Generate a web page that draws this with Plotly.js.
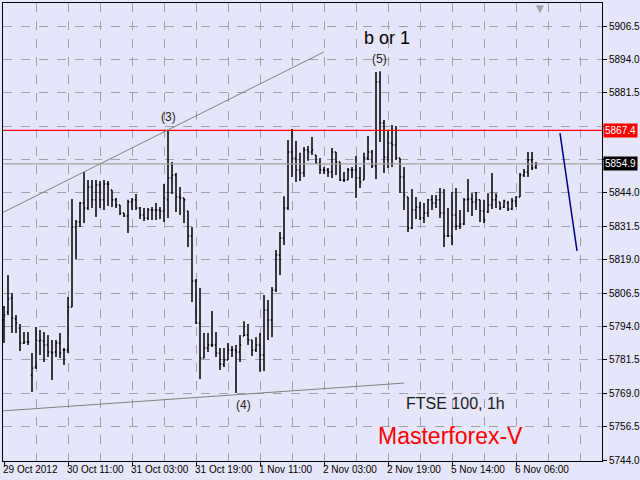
<!DOCTYPE html>
<html>
<head>
<meta charset="utf-8">
<script src="https://cdn.plot.ly/plotly-3.0.1.min.js"></script>
<style>html,body{margin:0;padding:0;background:#E6E6FA;}#chart{width:640px;height:480px;}</style>
</head>
<body>
<div id="chart"></div>
<script>
// FTSE 100, 1h bars (29 Oct 2012 - 6 Nov 2012)
const openP = [5796.4,5799.4,5804.7,5796.8,5793.4,5787.8,5788.2,5775.8,5778.8,5788.6,5788.6,5787.1,5784.4,5784.4,5787.8,5785.2,5785.2,5801.3,5831.2,5833.1,5840.2,5838.4,5846.2,5841.4,5847.0,5841.4,5847.3,5845.1,5841.4,5839.5,5836.5,5835.4,5840.6,5841.4,5838.4,5835.7,5834.6,5837.6,5837.6,5837.6,5837.2,5841.4,5849.6,5850.7,5842.5,5842.1,5837.2,5827.9,5811.0,5795.3,5782.2,5785.9,5787.1,5787.1,5784.1,5779.9,5781.4,5785.2,5785.2,5784.4,5790.4,5790.8,5788.9,5785.2,5787.1,5783.3,5800.2,5796.4,5807.7,5820.8,5827.1,5838.4,5859.3,5857.1,5852.6,5851.5,5860.1,5859.3,5858.2,5855.2,5852.6,5852.6,5851.8,5859.3,5855.6,5848.8,5848.8,5852.6,5852.6,5849.6,5848.8,5857.1,5859.3,5854.1,5885.5,5870.2,5857.4,5862.7,5861.9,5857.1,5850.0,5842.5,5830.9,5837.6,5838.7,5834.6,5836.5,5841.4,5840.2,5841.4,5836.5,5827.9,5827.9,5835.7,5831.6,5832.4,5841.4,5841.7,5840.6,5841.4,5837.2,5836.9,5839.5,5841.4,5840.6,5838.7,5840.2,5838.0,5841.0,5842.5,5850.7,5851.8,5856.3,5853.7];
const highP = [5801.7,5813.3,5806.5,5798.3,5794.9,5791.9,5791.9,5784.1,5793.8,5792.7,5791.9,5790.8,5788.9,5788.9,5791.6,5785.9,5805.0,5841.7,5833.9,5840.6,5851.8,5848.8,5848.8,5848.8,5848.5,5848.8,5848.5,5845.1,5842.1,5839.5,5836.5,5841.4,5842.1,5843.6,5838.7,5838.4,5838.4,5838.7,5840.2,5838.7,5847.3,5867.6,5855.6,5851.5,5846.2,5842.1,5837.2,5831.2,5811.8,5808.4,5791.6,5791.6,5799.8,5791.9,5785.9,5785.9,5787.8,5786.7,5787.1,5790.8,5796.0,5794.9,5788.9,5790.0,5791.6,5805.8,5803.9,5808.8,5822.6,5829.4,5842.8,5863.8,5867.9,5863.4,5859.0,5861.2,5861.6,5864.9,5858.2,5857.1,5853.7,5853.3,5860.8,5859.3,5855.6,5851.8,5853.3,5853.7,5857.8,5853.7,5859.0,5865.3,5860.1,5889.3,5889.6,5871.3,5867.6,5869.4,5869.1,5857.1,5853.7,5842.5,5845.5,5842.5,5840.6,5840.2,5841.7,5843.2,5843.2,5845.8,5845.5,5838.4,5844.3,5845.8,5837.6,5842.1,5849.2,5843.9,5844.3,5841.4,5841.4,5843.9,5851.5,5843.9,5840.6,5841.4,5841.0,5842.1,5842.8,5851.5,5853.0,5859.3,5859.3,5855.6];
const lowP = [5787.8,5798.3,5791.6,5791.6,5784.8,5787.4,5787.1,5769.5,5778.1,5783.3,5780.7,5782.6,5774.0,5782.6,5782.2,5779.6,5784.1,5801.3,5819.3,5831.2,5832.7,5837.6,5838.4,5835.0,5838.4,5837.6,5839.1,5838.7,5838.4,5835.7,5835.0,5829.0,5837.6,5837.6,5834.2,5833.5,5833.9,5833.9,5833.9,5834.2,5833.1,5834.6,5843.6,5836.9,5835.7,5832.7,5823.8,5803.2,5794.9,5774.3,5782.2,5784.4,5786.3,5782.6,5777.7,5778.8,5781.4,5782.6,5769.1,5780.7,5790.4,5787.1,5782.9,5784.4,5777.0,5777.3,5788.9,5790.0,5806.9,5813.3,5824.5,5837.6,5850.0,5848.1,5848.5,5850.0,5856.0,5858.2,5854.8,5851.1,5851.1,5850.0,5849.6,5850.7,5848.5,5848.1,5848.8,5849.6,5842.1,5845.8,5848.8,5856.3,5853.3,5849.2,5863.1,5851.5,5853.3,5853.7,5856.3,5844.0,5837.6,5829.4,5830.5,5834.2,5833.9,5832.7,5835.0,5837.6,5838.4,5834.6,5823.8,5827.5,5824.5,5830.1,5830.5,5832.0,5836.9,5835.4,5837.6,5833.1,5832.7,5836.5,5838.0,5838.4,5837.6,5838.4,5837.2,5837.6,5838.7,5842.5,5850.0,5850.0,5852.6,5853.0];
const closeP = [5798.3,5804.3,5797.2,5795.3,5787.8,5788.2,5788.2,5778.4,5788.9,5788.9,5787.1,5784.4,5784.1,5787.8,5784.1,5785.2,5801.3,5831.2,5833.1,5840.2,5838.4,5846.2,5841.4,5847.0,5841.4,5847.3,5847.3,5841.4,5839.5,5836.5,5835.4,5840.6,5841.4,5838.4,5835.7,5834.6,5837.6,5837.6,5837.6,5837.2,5842.1,5849.6,5850.7,5842.5,5842.1,5841.4,5827.9,5811.0,5795.3,5782.2,5785.9,5787.1,5787.1,5784.1,5779.9,5781.4,5785.2,5785.2,5784.4,5787.1,5790.8,5788.9,5785.2,5787.1,5783.3,5800.2,5796.4,5807.7,5820.8,5827.1,5838.4,5859.3,5857.1,5852.6,5851.5,5860.1,5859.3,5860.1,5855.2,5852.6,5852.6,5851.8,5859.3,5855.6,5848.8,5848.8,5852.6,5852.6,5849.6,5848.1,5857.1,5859.3,5854.1,5885.5,5870.2,5857.4,5862.7,5861.9,5857.1,5850.0,5843.2,5830.9,5837.6,5838.7,5834.6,5836.5,5841.4,5840.2,5841.4,5836.5,5827.9,5827.9,5835.7,5831.6,5832.4,5841.4,5841.7,5840.6,5841.4,5837.2,5833.9,5839.5,5841.4,5842.8,5838.4,5841.0,5838.0,5841.0,5842.5,5850.7,5851.8,5856.3,5853.3,5854.9];

// time axis labels (bar index -> label)
const timeTickIdx = [0,16,32,48,64,80,96,112,128];
const timeTickText = ["29 Oct 2012","30 Oct 11:00","31 Oct 03:00","31 Oct 19:00","1 Nov 11:00","2 Nov 03:00","2 Nov 19:00","5 Nov 14:00","6 Nov 06:00"];

// price axis ticks (two labels are hidden behind the price boxes, as in the terminal)
const priceTicks = [5744.0,5756.5,5769.0,5781.5,5794.0,5806.5,5819.0,5831.5,5844.0,5856.5,5869.0,5881.5,5894.0,5906.5];
const priceTickText = ["5744.0","5756.5","5769.0","5781.5","5794.0","5806.5","5819.0","5831.5","5844.0","","","5881.5","5894.0","5906.5"];

// horizontal levels
const resistanceLevel = 5867.4;
const lastPrice = 5854.9;

// drawn lines (bar index, price)
const upperTrendX = [-0.25, 80];
const upperTrendY = [5836.7, 5896.8];
const lowerTrendX = [-0.25, 100];
const lowerTrendY = [5762.4, 5772.8];
const forecastX = [139, 143.25];
const forecastY = [5866.4, 5822.3];

// wave labels
const waveLabelText = ["(3)","(5)","(4)","b or 1"];
const waveLabelX = [41, 93.75, 59.75, 95.75];
const waveLabelY = [5872.4, 5894.1, 5764.6, 5902.0];

const barIdx = closeP.map((_, i) => i);

const trace = {
  type: 'ohlc',
  x: barIdx, open: openP, high: highP, low: lowP, close: closeP,
  increasing: {line: {color: '#000000', width: 1.5}},
  decreasing: {line: {color: '#000000', width: 1.5}},
  tickwidth: 0.3,
  hoverinfo: 'skip'
};

const gridCol = '#A0A0A8';
const shapes = [
  {type:'line', xref:'paper', yref:'y', x0:0, x1:1, y0:resistanceLevel, y1:resistanceLevel, line:{color:'#FF0000', width:1.2}},
  {type:'line', xref:'paper', yref:'y', x0:0, x1:1, y0:lastPrice, y1:lastPrice, line:{color:'#A0A0A0', width:1.2}},
  {type:'line', xref:'x', yref:'y', x0:upperTrendX[0], x1:upperTrendX[1], y0:upperTrendY[0], y1:upperTrendY[1], line:{color:'#808080', width:1}},
  {type:'line', xref:'x', yref:'y', x0:lowerTrendX[0], x1:lowerTrendX[1], y0:lowerTrendY[0], y1:lowerTrendY[1], line:{color:'#808080', width:1}},
  {type:'line', xref:'x', yref:'y', x0:forecastX[0], x1:forecastX[1], y0:forecastY[0], y1:forecastY[1], line:{color:'#00008B', width:1.5}}
];

const annotations = [];
timeTickIdx.forEach((ix, k) => {
  annotations.push({x: ix, xref:'x', y: 0, yref:'paper', yanchor:'top', xanchor:'left', xshift:-3, yshift:-1,
    text: timeTickText[k], showarrow:false, font:{family:'Liberation Sans, Arial, sans-serif', size:10, color:'#000'}});
});
waveLabelText.forEach((t, k) => {
  const big = (t === 'b or 1');
  annotations.push({x: waveLabelX[k], y: waveLabelY[k], xref:'x', yref:'y', text:t, showarrow:false,
    font:{family:'Liberation Sans, Arial, sans-serif', size: big ? 18 : 12, color: big ? '#000' : '#222'}});
});
annotations.push({x: 112.75, y: 5765.3, xref:'x', yref:'y', text:'FTSE 100, 1h', showarrow:false,
  font:{family:'Liberation Sans, Arial, sans-serif', size:16, color:'#1a1a1a'}});
annotations.push({x: 111.6, y: 5753.0, xref:'x', yref:'y', text:'Masterforex-V', showarrow:false,
  font:{family:'Liberation Sans, Arial, sans-serif', size:23, color:'#FF0000'}});
annotations.push({x: 1, xref:'paper', xanchor:'left', xshift:1, y: resistanceLevel, yref:'y', text: resistanceLevel.toFixed(1),
  showarrow:false, bgcolor:'#FF0000', borderpad:1, font:{family:'Liberation Sans, Arial, sans-serif', size:10, color:'#FFFFFF'}});
annotations.push({x: 1, xref:'paper', xanchor:'left', xshift:1, y: lastPrice, yref:'y', text: lastPrice.toFixed(1),
  showarrow:false, bgcolor:'#000000', borderpad:1, font:{family:'Liberation Sans, Arial, sans-serif', size:10, color:'#FFFFFF'}});
annotations.push({x: 134, xref:'x', y: 1, yref:'paper', yanchor:'top', yshift:2, text:'▼', showarrow:false,
  font:{family:'DejaVu Sans, sans-serif', size:10, color:'#A0A0A0'}});

const layout = {
  width: 640, height: 480,
  margin: {l:3, r:38, t:3, b:19, pad:0},
  paper_bgcolor: '#E6E6FA', plot_bgcolor: '#E6E6FA',
  showlegend: false,
  xaxis: {
    type:'linear', range:[-0.25, 149.5], fixedrange:true,
    rangeslider:{visible:false},
    tickmode:'array', tickvals: timeTickIdx, showticklabels:false,
    ticks:'outside', ticklen:4, tickcolor:'#000',
    showgrid:true, gridcolor:gridCol, griddash:'dash', gridwidth:1,
    minor:{tick0:0, dtick:8, showgrid:true, gridcolor:gridCol, griddash:'dash', gridwidth:1, ticks:''},
    showline:true, linecolor:'#000', linewidth:1, mirror:true, zeroline:false
  },
  yaxis: {
    side:'right', range:[5743.63, 5915.11], fixedrange:true,
    tickmode:'array', tickvals: priceTicks, ticktext: priceTickText,
    ticks:'outside', ticklen:4, tickcolor:'#000',
    tickfont:{family:'Liberation Sans, Arial, sans-serif', size:10, color:'#000'},
    showgrid:true, gridcolor:gridCol, griddash:'dash', gridwidth:1,
    showline:true, linecolor:'#000', linewidth:1, mirror:true, zeroline:false
  },
  shapes: shapes,
  annotations: annotations
};

Plotly.newPlot('chart', [trace], layout, {staticPlot:true, displayModeBar:false});
</script>
</body>
</html>
